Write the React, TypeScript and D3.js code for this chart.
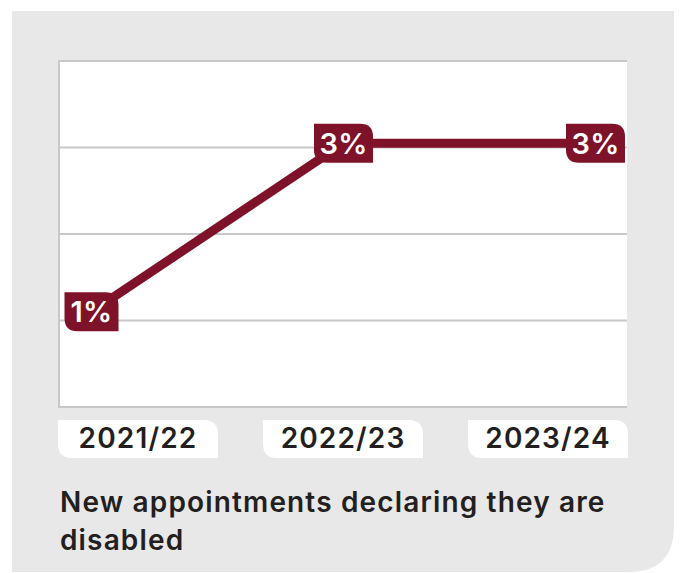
import React from "react";
import * as d3 from "d3";

const categories = ["2021/22", "2022/23", "2023/24"];
const values = [1.1, 3.05, 3.05];
const valueLabels = ["1%", "3%", "3%"];
const yTicks = [0, 1, 2, 3, 4];
const titleLines = ["New appointments declaring they are", "disabled"];

const W = 680;
const H = 573;
const maroon = "#7e1229";
const gridColor = "#c8c8c8";
const font = "Inter, 'Open Sans', sans-serif";

// leaf shape: square TL & BR, rounded TR & BL
function leaf(x: number, y: number, w: number, h: number, r: number) {
  return `M${x},${y} H${x + w - r} Q${x + w},${y} ${x + w},${y + r} V${y + h} H${x + r} Q${x},${y + h} ${x},${y + h - r} Z`;
}

export default function App() {
  const plot = { left: 60, right: 627, top: 61, bottom: 407 };
  const x = d3
    .scalePoint<string>()
    .domain(categories)
    .range([plot.left, plot.right])
    .padding(0.125);
  const y = d3.scaleLinear().domain([0, 4]).range([plot.bottom, plot.top]);
  const line = d3
    .line<number>()
    .x((_, i) => x(categories[i]) as number)
    .y((d) => y(d));

  const band = d3
    .scaleBand<string>()
    .domain(categories)
    .range([58, 628])
    .paddingInner(0.22);

  const panelR = 46;
  const px0 = 12, py0 = 11, px1 = 674, py1 = 572;
  const panelPath = `M${px0},${py0} H${px1} V${py1 - panelR} Q${px1},${py1} ${px1 - panelR},${py1} H${px0} Z`;

  const textStyle = {
    fontFamily: font,
    fontSize: 28,
    fontWeight: 600,
    letterSpacing: 1.15,
  } as const;

  return (
    <svg
      width={W}
      height={H}
      style={{ position: "absolute", left: 0, top: 0, display: "block" }}
    >
      <path d={panelPath} fill="#e8e8e8" />
      <rect
        x={plot.left}
        y={plot.top}
        width={plot.right - plot.left}
        height={plot.bottom - plot.top}
        fill="#ffffff"
      />
      {yTicks.map((t) => (
        <line
          key={t}
          x1={plot.left - 1}
          x2={plot.right}
          y1={y(t)}
          y2={y(t)}
          stroke={gridColor}
          strokeWidth={2}
        />
      ))}
      <line
        x1={plot.left - 1}
        x2={plot.left - 1}
        y1={plot.top - 1}
        y2={plot.bottom + 1}
        stroke={gridColor}
        strokeWidth={2}
      />
      <path
        d={line(values) || ""}
        fill="none"
        stroke={maroon}
        strokeWidth={9}
        strokeLinejoin="round"
      />
      {values.map((v, i) => {
        const cx = x(categories[i]) as number;
        const cy = y(v);
        const w = valueLabels[i].startsWith("1") ? 54 : 59;
        const h = 39;
        let bx = cx - w / 2;
        if (bx + w > plot.right) bx = plot.right - w;
        return (
          <g key={i}>
            <path d={leaf(bx, cy - h / 2, w, h, 13)} fill={maroon} />
            <text
              x={bx + w / 2}
              y={cy + 10.5}
              textAnchor="middle"
              fill="#ffffff"
              {...textStyle}
              fontSize={29}
              letterSpacing={0.3}
            >
              {valueLabels[i]}
            </text>
          </g>
        );
      })}
      {categories.map((c) => {
        const bx = band(c) as number;
        const bw = band.bandwidth();
        return (
          <g key={c}>
            <path d={leaf(bx, 420, bw, 38, 14)} fill="#ffffff" />
            <text
              x={bx + bw / 2}
              y={448}
              textAnchor="middle"
              fill="#231f20"
              {...textStyle}
            >
              {c}
            </text>
          </g>
        );
      })}
      {titleLines.map((t, i) => (
        <text
          key={i}
          x={60}
          y={512 + i * 38}
          fill="#231f20"
          {...textStyle}
        >
          {t}
        </text>
      ))}
    </svg>
  );
}
